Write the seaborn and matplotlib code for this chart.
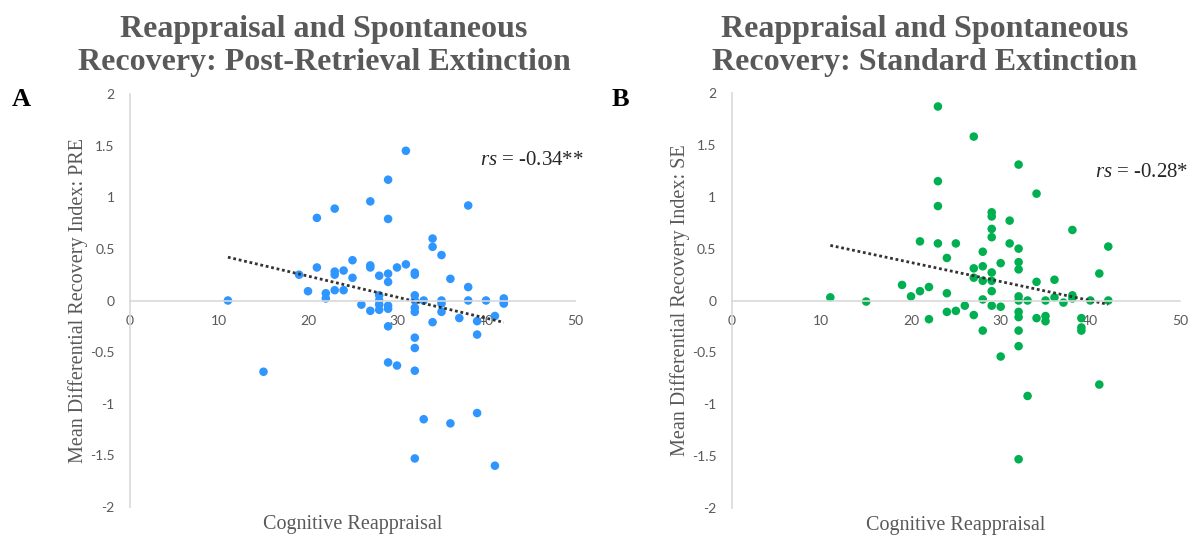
import numpy as np
import pandas as pd
import matplotlib
matplotlib.use("Agg")
import matplotlib.pyplot as plt
import seaborn as sns

# ---- Data ----
pre_x = [11, 15, 19, 20, 21, 21, 22, 22, 23, 23, 23, 23, 24, 24, 25, 25, 26,
         27, 27, 27, 27, 28, 28, 28, 28, 28, 29, 29, 29, 29, 29, 29, 29, 29,
         30, 30, 31, 31, 32, 32, 32, 32, 32, 32, 32, 32, 32, 32, 33, 33,
         34, 34, 34, 35, 35, 35, 35, 36, 36, 37, 38, 38, 38, 39, 39, 39,
         40, 41, 41, 42, 42, 42]
pre_y = [0.00, -0.69, 0.25, 0.09, 0.80, 0.32, 0.07, 0.02, 0.89, 0.28, 0.25, 0.10,
         0.29, 0.10, 0.39, 0.22, -0.04, 0.96, 0.34, 0.32, -0.10, 0.24, 0.05, 0.00,
         -0.04, -0.09, 1.17, 0.79, 0.26, 0.18, -0.05, -0.08, -0.25, -0.60,
         0.32, -0.63, 1.45, 0.35, 0.27, 0.25, 0.05, 0.00, -0.07, -0.11, -0.36,
         -0.46, -0.68, -1.53, 0.00, -1.15, 0.60, 0.52, -0.21, 0.44, 0.00, -0.03,
         -0.11, 0.21, -1.19, -0.17, 0.92, 0.13, 0.00, -0.20, -0.33, -1.09,
         0.00, -0.15, -1.60, 0.02, -0.02, -0.03]

se_x = [11, 15, 19, 20, 21, 21, 22, 22, 23, 23, 23, 23, 24, 24, 24, 25, 25, 26,
        27, 27, 27, 27, 28, 28, 28, 28, 28, 29, 29, 29, 29, 29, 29, 29, 29,
        30, 30, 30, 31, 31, 32, 32, 32, 32, 32, 32, 32, 32, 32, 32, 32,
        33, 33, 34, 34, 34, 35, 35, 35, 36, 36, 37, 38, 38, 38, 39, 39, 39,
        40, 41, 41, 42, 42]
se_y = [0.03, -0.01, 0.15, 0.04, 0.57, 0.09, 0.13, -0.18, 1.87, 1.15, 0.91, 0.55,
        0.41, 0.07, -0.11, 0.55, -0.10, -0.05, 1.58, 0.31, 0.22, -0.14, 0.47,
        0.33, 0.19, 0.01, -0.29, 0.85, 0.81, 0.69, 0.61, 0.27, 0.19, 0.09, -0.05,
        0.36, -0.06, -0.54, 0.77, 0.55, 1.31, 0.50, 0.37, 0.30, 0.04, 0.00,
        -0.11, -0.16, -0.29, -0.44, -1.53, 0.00, -0.92, 1.03, 0.18, -0.17,
        0.00, -0.15, -0.20, 0.20, 0.03, -0.02, 0.68, 0.05, 0.02, -0.17, -0.26,
        -0.29, 0.00, 0.26, -0.81, 0.52, 0.00]

titles = ["Reappraisal and Spontaneous\nRecovery: Post-Retrieval Extinction",
          "Reappraisal and Spontaneous\nRecovery: Standard Extinction"]
ylabels = ["Mean Differential Recovery Index: PRE",
           "Mean Differential Recovery Index: SE"]
xlabel = "Cognitive Reappraisal"
panel_letters = ["A", "B"]
stats = [r"$\it{rs}$ = -0.34**", r"$\it{rs}$ = -0.28*"]
x_ticks = [0, 10, 20, 30, 40, 50]
y_ticks = [-2, -1.5, -1, -0.5, 0, 0.5, 1, 1.5, 2]
y_ticklabels = ["-2", "-1.5", "-1", "-0.5", "0", "0.5", "1", "1.5", "2"]

sns.set_theme(style="white")
plt.rcParams["mathtext.fontset"] = "custom"
plt.rcParams["mathtext.rm"] = "Liberation Serif"
plt.rcParams["mathtext.it"] = "Liberation Serif:italic"

SERIF = "Liberation Serif"
TICKFONT = "Lato"
GRAY = "#595959"
SPINE = "#d9d9d9"

fig = plt.figure(figsize=(11.99, 5.37), dpi=100)
ax_pos = [[130 / 1199, 30 / 537, 445 / 1199, 413 / 537],
          [731.7 / 1199, 29 / 537, 448.3 / 1199, 415 / 537]]
colors = ["#2f96ff", "#00b050"]
datasets = [(pre_x, pre_y), (se_x, se_y)]
stat_pos = [(39.3, 1.36), (40.5, 1.23)]
title_cx = [324 / 1199, 925 / 1199]
letter_x = [12 / 1199, 612 / 1199]

for i in range(2):
    ax = fig.add_axes(ax_pos[i])
    df = pd.DataFrame({"x": datasets[i][0], "y": datasets[i][1]})
    sns.regplot(data=df, x="x", y="y", ax=ax, ci=None,
                scatter_kws=dict(color=colors[i], s=38, edgecolor="none", alpha=1),
                line_kws=dict(color="#333333", lw=2, linestyle=(0, (1, 1))))
    ax.set_xlim(0, 50)
    ax.set_ylim(-2, 2)
    ax.set_xticks(x_ticks)
    ax.set_xticklabels([str(t) for t in x_ticks])
    ax.set_yticks(y_ticks)
    ax.set_yticklabels(y_ticklabels)
    for s in ["top", "right"]:
        ax.spines[s].set_visible(False)
    ax.spines["bottom"].set_position(("data", 0))
    ax.spines["bottom"].set_color(SPINE)
    ax.spines["left"].set_color(SPINE)
    ax.spines["bottom"].set_linewidth(1.2)
    ax.spines["left"].set_linewidth(1.2)
    ax.tick_params(axis="both", length=0, labelcolor=GRAY, labelsize=10)
    ax.tick_params(axis="y", pad=11)
    ax.tick_params(axis="x", pad=10.5)
    for lab in ax.get_xticklabels() + ax.get_yticklabels():
        lab.set_fontfamily(TICKFONT)
    ax.set_xlabel(xlabel, family=SERIF, color=GRAY, fontsize=14.5)
    ax.xaxis.set_label_coords(0.5, -0.02)
    ax.set_ylabel(ylabels[i], family=SERIF, color=GRAY, fontsize=14.5)
    ax.yaxis.set_label_coords(-0.094, 0.5)
    ax.grid(False)
    ax.text(stat_pos[i][0], stat_pos[i][1], stats[i], fontsize=15,
            family=SERIF, color="#262626", ha="left", va="center")
    fig.text(title_cx[i], 1 - 46 / 537, titles[i], ha="center", va="center",
             family=SERIF, fontweight="bold", fontsize=23, color=GRAY,
             linespacing=1.2)
    fig.text(letter_x[i], 1 - 100 / 537, panel_letters[i], ha="left", va="center",
             family=SERIF, fontweight="bold", fontsize=19, color="black")

fig.savefig("out.png", dpi=100)
